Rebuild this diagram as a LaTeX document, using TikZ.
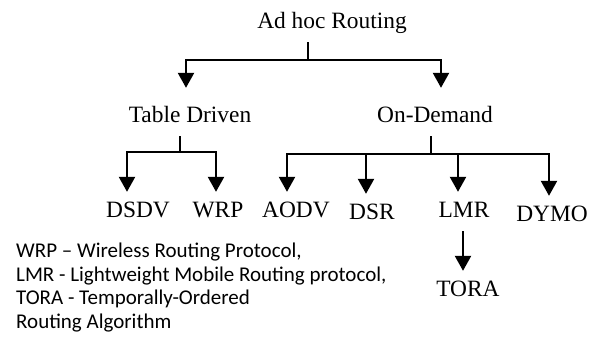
\documentclass[tikz,border=0pt]{standalone}
\usepackage{fontspec}
\setmainfont{Liberation Serif}
\newfontfamily\notefont{Carlito}
\usetikzlibrary{arrows.meta}

\begin{document}
\begin{tikzpicture}[x=1pt, y=-1pt,
lbl/.style={font=\fontsize{23.4}{28}\selectfont, text height=16pt, text depth=5pt, inner xsep=0pt, inner ysep=9pt, anchor=base},
link/.style={line width=2.4pt},
arrow/.style={-{Triangle[length=15pt,width=16pt]}, line width=2.4pt},
note/.style={font=\notefont\fontsize{21}{23.6}\selectfont, align=left, anchor=north west, inner sep=0pt}
]
\useasboundingbox (0,0) rectangle (600,338);
% labels
\node[lbl] (root) at (332,28) {Ad hoc Routing};
\node[lbl] (tab) at (190,122) {Table Driven};
\node[lbl] (ond) at (435,122) {On-Demand};
\node[lbl] (dsdv) at (138,217) {DSDV};
\node[lbl] (wrp) at (218,217) {WRP};
\node[lbl] (aodv) at (296,217) {AODV};
\node[lbl] (dsr) at (372,219) {DSR};
\node[lbl] (lmr) at (464,217) {LMR};
\node[lbl] (dymo) at (552,221) {DYMO};
\node[lbl] (tora) at (468,296) {TORA};
% junctions
\coordinate (j0) at (308,60);
\coordinate (tj) at (180,152);
\coordinate (oj) at (431,154);
% tree
\draw[link] (root.south -| j0) -- (j0);
\draw[arrow] (j0) -| ([xshift=-4pt,yshift=9pt]tab.north);
\draw[arrow] (j0) -| ([xshift=6pt,yshift=9pt]ond.north);
\draw[link] (tab.south -| tj) -- (tj);
\draw[arrow] (tj) -| ([xshift=-11pt]dsdv.north);
\draw[arrow] (tj) -| ([xshift=-2pt]wrp.north);
\draw[link] (ond.south -| oj) -- (oj);
\draw[arrow] (oj) -| ([xshift=-9pt]aodv.north);
\draw[arrow] (oj) -| ([xshift=-6pt]dsr.north);
\draw[arrow] (oj) -| ([xshift=-6pt]lmr.north);
\draw[arrow] (oj) -| ([xshift=-3pt]dymo.north);
\draw[arrow] ([xshift=-1pt]lmr.south) -- ([xshift=-5pt]tora.north);
% legend
\node[note] (legend) at (16,243) {WRP – Wireless Routing Protocol,\\LMR - Lightweight Mobile Routing protocol,\\TORA - Temporally-Ordered\\Routing Algorithm};
\end{tikzpicture}
\end{document}
